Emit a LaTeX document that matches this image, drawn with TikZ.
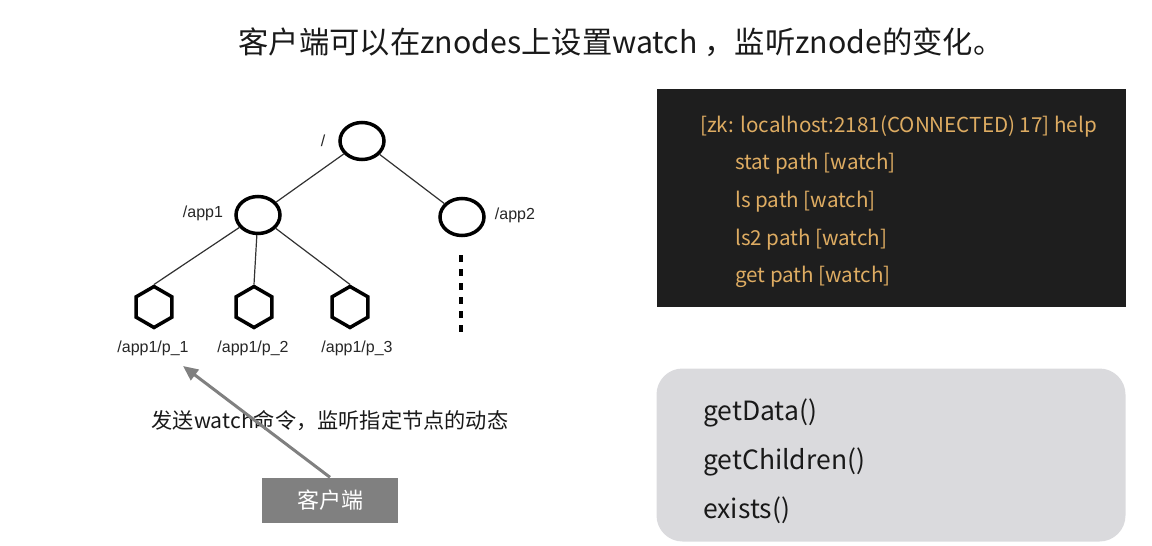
\documentclass[tikz,border=0pt]{standalone}
\usepackage{fontspec}
\setmainfont{Noto Sans CJK SC}
\newfontfamily\treefont{Liberation Sans}
\usetikzlibrary{arrows.meta,positioning,shapes.geometric}
\definecolor{termbg}{RGB}{30,30,30}
\definecolor{termtxt}{RGB}{222,172,98}
\definecolor{panel}{RGB}{218,218,221}
\definecolor{clientgray}{RGB}{128,128,128}
\definecolor{edgegray}{RGB}{50,50,50}
\begin{document}
\begin{tikzpicture}[x=1pt,y=-1pt,
    znode/.style={ellipse,draw,line width=3.5pt,minimum width=44pt,minimum height=37pt,inner sep=0pt},
    leaf/.style={regular polygon,regular polygon sides=6,regular polygon rotate=30,draw,line width=3.5pt,minimum size=41pt,inner sep=0pt},
    tlabel/.style={font=\treefont\fontsize{16}{18}\selectfont,text=black!85,inner sep=0pt},
    edge/.style={edgegray,line width=1.2pt},
    termline/.style={anchor=west,text=termtxt,font=\fontsize{20.6}{24}\selectfont,inner sep=0pt},
    apiline/.style={anchor=west,text=black!90,font=\fontsize{26.5}{30}\selectfont,inner sep=0pt}]
  \useasboundingbox (0,0) rectangle (1152,546);
  % title
  \node[font=\fontsize{30.3}{34}\selectfont,text=black!90] (title) at (621,42) {客户端可以在znodes上设置watch ，监听znode的变化。};
  % znode tree
  \node[znode] (root) at (362,141) {};
  \node[znode] (app1) at (258,215) {};
  \node[znode] (app2) at (462,217) {};
  \node[tlabel] (lroot) at (323,141) {/};
  \node[tlabel] (lapp1) at (203,213) {/app1};
  \node[tlabel] (lapp2) at (515,215) {/app2};
  \draw[edge] (root) -- (app1);
  \draw[edge] (root) -- (app2);
  \foreach \i/\x/\lx in {1/154/153, 2/254/253, 3/350/357} {
    \node[leaf] (p\i) at (\x,307) {};
    \node[tlabel] (lp\i) at (\lx,348) {/app1/p\_\i};
    \draw[edge] (app1) -- (p\i.north);
  }
  \coordinate (dotA) at (461,255);
  \coordinate (dotB) at (461,333);
  \draw[line width=4.5pt,dash pattern=on 6.5pt off 7.5pt] (dotA) -- (dotB);
  % client
  \node[font=\fontsize{21.2}{24}\selectfont,text=black!90] (note) at (330,421) {发送watch命令，监听指定节点的动态};
  \node[fill=clientgray,text=white,minimum width=136pt,minimum height=45pt,inner sep=0pt,font=\fontsize{22}{26}\selectfont] (client) at (330,500) {客户端};
  \coordinate (tip) at (183,366);
  \draw[clientgray,line width=3pt,-{Triangle[length=15pt,width=13pt]}] (client.north) -- (tip);
  % terminal
  \node[fill=termbg,minimum width=469pt,minimum height=218pt,inner sep=0pt] (term) at (891,198) {};
  \node[termline] (t1) at (700,126) {[zk: localhost:2181(CONNECTED) 17] help};
  \node[termline] (t2) at (735,164) {stat path [watch]};
  \node[termline] (t3) at (735,202) {ls path [watch]};
  \node[termline] (t4) at (735,240) {ls2 path [watch]};
  \node[termline] (t5) at (735,277) {get path [watch]};
  % api panel
  \node[fill=panel,rounded corners=26pt,minimum width=469pt,minimum height=173pt,inner sep=0pt] (api) at (891,455) {};
  \node[apiline] (a1) at (703,413) {getData()};
  \node[apiline] (a2) at (703,462) {getChildren()};
  \node[apiline] (a3) at (703,510) {exists()};
\end{tikzpicture}
\end{document}
